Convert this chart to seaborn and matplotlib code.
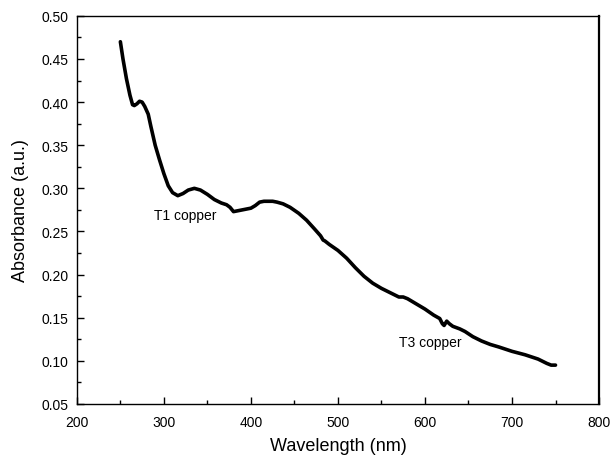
import matplotlib
matplotlib.use("Agg")
import matplotlib.pyplot as plt
from matplotlib.ticker import MultipleLocator, FormatStrFormatter
import pandas as pd
import seaborn as sns

# UV-Vis absorption spectrum
wavelength = [250, 253, 257, 261, 264, 266, 269, 272, 275, 278, 282, 285, 290, 295,
              300, 305, 310, 316, 322, 328, 335, 342, 350, 358, 366, 372, 376, 380,
              385, 390, 395, 400, 405, 410, 415, 420, 425, 430, 437, 445, 455, 464,
              473, 480, 483, 485, 490, 500, 510, 520, 530, 540, 550, 560, 570, 575,
              580, 585, 590, 600, 610, 617, 620, 622, 625, 628, 632, 640, 646, 655,
              665, 675, 685, 700, 715, 730, 740, 745, 750]
absorbance = [0.470, 0.450, 0.427, 0.408, 0.397, 0.396, 0.398, 0.401, 0.400, 0.395,
              0.386, 0.372, 0.350, 0.333, 0.317, 0.303, 0.295, 0.2915, 0.294, 0.298,
              0.300, 0.298, 0.293, 0.287, 0.283, 0.281, 0.278, 0.273, 0.274, 0.275,
              0.276, 0.277, 0.280, 0.284, 0.285, 0.285, 0.285, 0.284, 0.282, 0.278,
              0.271, 0.263, 0.253, 0.245, 0.240, 0.239, 0.235, 0.228, 0.219, 0.208,
              0.198, 0.190, 0.184, 0.179, 0.174, 0.174, 0.172, 0.169, 0.166, 0.160,
              0.153, 0.149, 0.143, 0.141, 0.146, 0.143, 0.140, 0.137, 0.134, 0.128,
              0.123, 0.119, 0.116, 0.111, 0.107, 0.102, 0.097, 0.095, 0.095]

labels = ["T1 copper", "T3 copper"]
label_x = [324, 606]
label_y = [0.269, 0.122]

sns.set_style("ticks")
plt.rcParams["font.family"] = ["Liberation Sans", "DejaVu Sans"]
plt.rcParams["text.color"] = "black"
plt.rcParams["axes.labelcolor"] = "black"
plt.rcParams["xtick.color"] = "black"
plt.rcParams["ytick.color"] = "black"

df = pd.DataFrame({"Wavelength (nm)": wavelength, "Absorbance (a.u.)": absorbance})

fig = plt.figure(figsize=(6.10, 4.56), dpi=100)
ax = fig.add_axes([0.126, 0.112, 0.856, 0.851])

sns.lineplot(data=df, x="Wavelength (nm)", y="Absorbance (a.u.)", ax=ax,
             color="black", linewidth=2.6, sort=False)

for txt, tx, ty in zip(labels, label_x, label_y):
    ax.text(tx, ty, txt, ha="center", va="center", fontsize=10, color="black")

ax.set_xlim(200, 800)
ax.set_ylim(0.05, 0.50)
ax.xaxis.set_major_locator(MultipleLocator(100))
ax.xaxis.set_minor_locator(MultipleLocator(50))
ax.yaxis.set_major_locator(MultipleLocator(0.05))
ax.yaxis.set_minor_locator(MultipleLocator(0.025))
ax.yaxis.set_major_formatter(FormatStrFormatter("%.2f"))

ax.tick_params(which="both", direction="in", top=False, right=False, labelsize=10,
               width=1, color="black", labelcolor="black")
ax.tick_params(which="major", length=5)
ax.tick_params(which="minor", length=3)
ax.tick_params(axis="x", which="major", pad=8)
ax.tick_params(axis="y", which="major", pad=6)

for side in ["top", "bottom", "left", "right"]:
    ax.spines[side].set_visible(True)
    ax.spines[side].set_color("black")
    ax.spines[side].set_linewidth(1.0)
ax.spines["right"].set_linewidth(1.6)

ax.set_xlabel("Wavelength (nm)", fontsize=13, va="center", color="black")
ax.set_ylabel("Absorbance (a.u.)", fontsize=13, va="center", color="black")
ax.xaxis.set_label_coords(0.5, -0.106)
ax.yaxis.set_label_coords(-0.107, 0.5)

fig.savefig("out.png", dpi=100)
